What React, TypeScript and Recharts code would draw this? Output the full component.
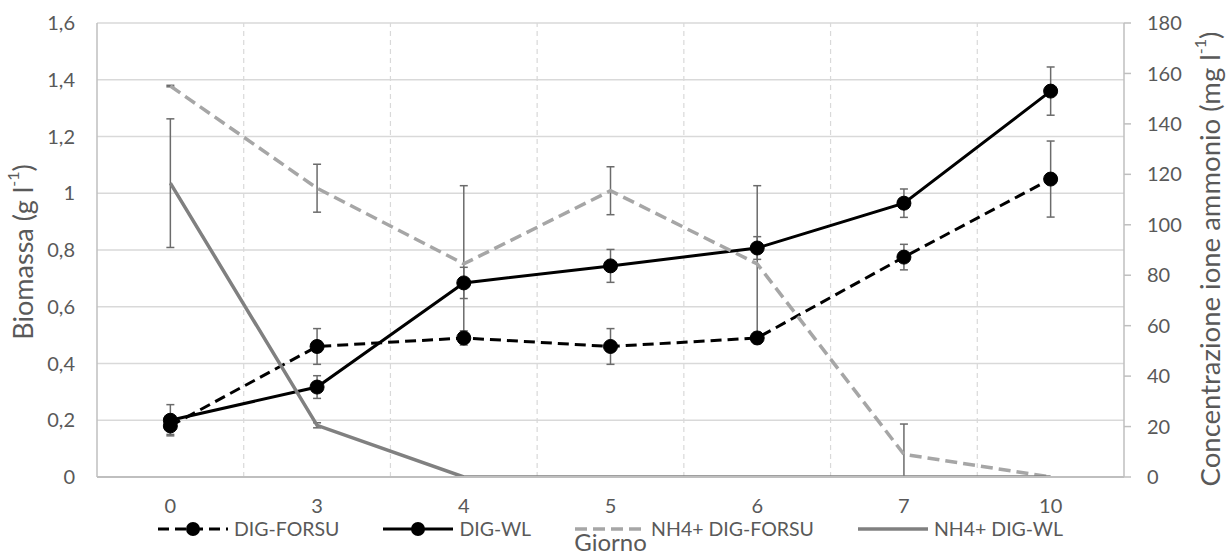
import React from "react";
import {
  ComposedChart,
  Line,
  XAxis,
  YAxis,
  CartesianGrid,
  ErrorBar,
  ReferenceLine,
  Legend,
  Label,
} from "recharts";

const days = ["0", "3", "4", "5", "6", "7", "10"];
const digForsu = [0.18, 0.46, 0.49, 0.46, 0.49, 0.775, 1.05];
const digForsuErr = [0.03, 0.063, 0.025, 0.063, 0.02, 0.045, 0.134];
const digWl = [0.2, 0.317, 0.684, 0.744, 0.807, 0.965, 1.36];
const digWlErr = [0.055, 0.04, 0.055, 0.058, 0.04, 0.05, 0.085];
const nh4Forsu = [155, 114.5, 84.5, 113.5, 84.5, 9, 0];
const nh4ForsuErrLow = [0.3, 9.5, 31, 9.5, 31, 9, 0];
const nh4ForsuErrHigh = [0.3, 9.5, 31, 9.5, 31, 12, 0];
const nh4Wl = [116.5, 20.5, 0, 0, 0, 0, 0];
const nh4WlErr = [25.5, 1, 0, 0, 0, 0, 0];
const leftTicks = [0, 0.2, 0.4, 0.6, 0.8, 1, 1.2, 1.4, 1.6];
const rightTicks = [0, 20, 40, 60, 80, 100, 120, 140, 160, 180];
const seriesNames = ["DIG-FORSU", "DIG-WL", "NH4+ DIG-FORSU", "NH4+ DIG-WL"];

const data = days.map((d, i) => ({
  idx: i,
  day: d,
  digForsu: digForsu[i],
  digForsuErr: digForsuErr[i],
  digWl: digWl[i],
  digWlErr: digWlErr[i],
  nh4Forsu: nh4Forsu[i],
  nh4ForsuErr: [nh4ForsuErrLow[i], nh4ForsuErrHigh[i]],
  nh4Wl: nh4Wl[i],
  nh4WlErr: nh4WlErr[i],
}));

const FONT = "Lato, 'Noto Sans', sans-serif";
const TXT = "#595959";
const ERR = "#6b6b6b";

const seriesStyle: Record<string, { color: string; dash?: string; width: number; dot: boolean }> = {
  digForsu: { color: "#000000", dash: "11 6", width: 3, dot: true },
  digWl: { color: "#000000", width: 3, dot: true },
  nh4Forsu: { color: "#a6a6a6", dash: "12 6", width: 3.5, dot: false },
  nh4Wl: { color: "#808080", width: 3.5, dot: false },
};
const seriesKeys = ["digForsu", "digWl", "nh4Forsu", "nh4Wl"];

const LeftTitle = (props: any) => {
  const vb = props.viewBox || {};
  const cx = 22;
  const cy = vb.y + vb.height / 2 + 2;
  return (
    <text
      transform={`translate(${cx},${cy}) rotate(-90)`}
      textAnchor="middle"
      dominantBaseline="central"
      fill={TXT}
      fontSize={27}
      fontFamily={FONT}
    >
      Biomassa (g l<tspan dy={-10} fontSize={16}>-1</tspan>
      <tspan dy={10}>)</tspan>
    </text>
  );
};

const RightTitle = (props: any) => {
  const vb = props.viewBox || {};
  const cx = 1209;
  const cy = vb.y + vb.height / 2 + 9;
  return (
    <text
      transform={`translate(${cx},${cy}) rotate(-90)`}
      textAnchor="middle"
      dominantBaseline="central"
      fill={TXT}
      fontSize={27.5}
      fontFamily={FONT}
    >
      Concentrazione ione ammonio (mg l<tspan dy={-10} fontSize={16}>-1</tspan>
      <tspan dy={10}>)</tspan>
    </text>
  );
};

const XTitle = (props: any) => {
  const vb = props.viewBox || {};
  return (
    <text
      x={vb.x + vb.width / 2}
      y={541}
      textAnchor="middle"
      dominantBaseline="central"
      fill={TXT}
      fontSize={24}
      fontFamily={FONT}
    >
      Giorno
    </text>
  );
};

const LegendIcon = ({ k }: { k: string }) => {
  const s = seriesStyle[k];
  return (
    <svg width={70} height={20} style={{ display: "block" }}>
      <line
        x1={0}
        y1={10}
        x2={70}
        y2={10}
        stroke={s.color}
        strokeWidth={s.width}
        strokeDasharray={s.dash}
      />
      {s.dot && <circle cx={35} cy={10} r={7} fill="#000" />}
    </svg>
  );
};

const renderLegend = () => (
  <div
    style={{
      display: "flex",
      justifyContent: "center",
      alignItems: "center",
      gap: 44,
      fontFamily: FONT,
      fontSize: 19.5,
      color: TXT,
      height: 20,
    }}
  >
    {seriesKeys.map((k, i) => (
      <div key={k} style={{ display: "flex", alignItems: "center", gap: 6, height: 20 }}>
        <LegendIcon k={k} />
        <span style={{ lineHeight: "20px" }}>{seriesNames[i]}</span>
      </div>
    ))}
  </div>
);

export default function App() {
  return (
    <div style={{ position: "absolute", left: 0, top: 0, width: 1230, height: 557, background: "#fff" }}>
      <ComposedChart
        width={1230}
        height={557}
        data={data}
        margin={{ top: 23, right: 0, bottom: 0, left: 0 }}
      >
        <CartesianGrid yAxisId="left" vertical={false} stroke="#d9d9d9" strokeWidth={1.5} />
        {days.slice(1).map((_, i) => (
          <ReferenceLine
            key={i}
            yAxisId="left"
            x={i + 0.5}
            stroke="#d9d9d9"
            strokeWidth={1.2}
            strokeDasharray="5 4"
          />
        ))}
        <XAxis
          dataKey="idx"
          type="number"
          domain={[-0.5, days.length - 0.5]}
          ticks={days.map((_, i) => i)}
          tickFormatter={(v: number) => days[v]}
          height={80}
          tickLine={false}
          tickSize={0}
          tickMargin={22}
          axisLine={{ stroke: "#bfbfbf", strokeWidth: 2 }}
          tick={{ fill: TXT, fontSize: 20, fontFamily: FONT }}
          interval={0}
        >
          <Label content={<XTitle />} />
        </XAxis>
        <YAxis
          yAxisId="left"
          domain={[0, 1.6]}
          allowDataOverflow
          ticks={leftTicks}
          tickFormatter={(v: number) => String(v).replace(".", ",")}
          width={97}
          tickLine={false}
          tickSize={0}
          tickMargin={22}
          axisLine={{ stroke: "#bfbfbf", strokeWidth: 1.5 }}
          tick={{ fill: TXT, fontSize: 20, fontFamily: FONT }}
          interval={0}
        >
          <Label content={<LeftTitle />} />
        </YAxis>
        <YAxis
          yAxisId="right"
          orientation="right"
          domain={[0, 180]}
          allowDataOverflow
          ticks={rightTicks}
          width={106}
          tickSize={7}
          tickMargin={16}
          tickLine={{ stroke: "#bfbfbf", strokeWidth: 1.5 }}
          axisLine={{ stroke: "#bfbfbf", strokeWidth: 1.5 }}
          tick={{ fill: TXT, fontSize: 20, fontFamily: FONT }}
          interval={0}
        >
          <Label content={<RightTitle />} />
        </YAxis>
        <Line
          yAxisId="left"
          dataKey="digForsu"
          name={seriesNames[0]}
          stroke="#000"
          strokeWidth={3}
          strokeDasharray="11 6"
          dot={{ r: 7, fill: "#000", stroke: "#000", strokeWidth: 1, strokeDasharray: "" }}
          isAnimationActive={false}
        >
          <ErrorBar dataKey="digForsuErr" direction="y" width={4} stroke={ERR} strokeWidth={1.5} />
        </Line>
        <Line
          yAxisId="left"
          dataKey="digWl"
          name={seriesNames[1]}
          stroke="#000"
          strokeWidth={3}
          dot={{ r: 7, fill: "#000", stroke: "#000", strokeWidth: 1 }}
          isAnimationActive={false}
        >
          <ErrorBar dataKey="digWlErr" direction="y" width={4} stroke={ERR} strokeWidth={1.5} />
        </Line>
        <Line
          yAxisId="right"
          dataKey="nh4Forsu"
          name={seriesNames[2]}
          stroke="#a6a6a6"
          strokeWidth={3.5}
          strokeDasharray="12 6"
          dot={false}
          isAnimationActive={false}
        >
          <ErrorBar dataKey="nh4ForsuErr" direction="y" width={4} stroke={ERR} strokeWidth={1.5} />
        </Line>
        <Line
          yAxisId="right"
          dataKey="nh4Wl"
          name={seriesNames[3]}
          stroke="#808080"
          strokeWidth={3.5}
          dot={false}
          isAnimationActive={false}
        >
          <ErrorBar dataKey="nh4WlErr" direction="y" width={4} stroke={ERR} strokeWidth={1.5} />
        </Line>
        <Legend
          layout="horizontal"
          verticalAlign="middle"
          align="center"
          wrapperStyle={{ top: 519, left: 97, width: 1027, height: 20 }}
          content={renderLegend}
        />
      </ComposedChart>
    </div>
  );
}
